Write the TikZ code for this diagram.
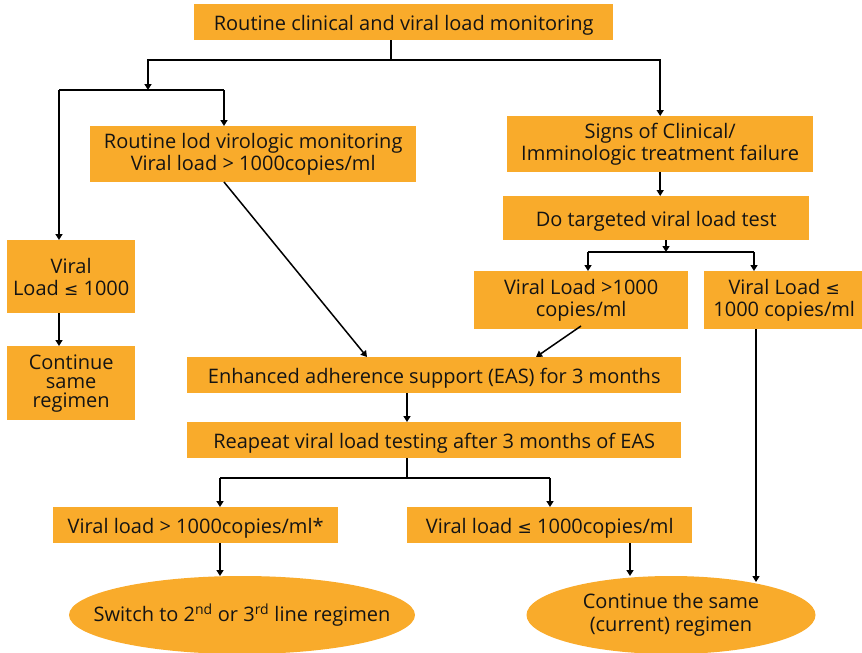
\documentclass[tikz,border=0pt]{standalone}
\usepackage{fontspec}
\setmainfont{Open Sans}
\newfontfamily\symf{DejaVu Sans}
\usetikzlibrary{arrows.meta,shapes.geometric}
\definecolor{boxor}{HTML}{F9AB2B}
\definecolor{txt}{HTML}{141414}
\newcommand{\myle}{{\symf\fontsize{17}{18}\selectfont ≤}}
\tikzset{
  box/.style={fill=boxor, draw=none, inner sep=0pt, anchor=north west, align=center, text=txt,
     font=\fontsize{20}{22}\selectfont},
  one/.style={text height=17pt, text depth=0pt},
  oval/.style={ellipse, fill=boxor, draw=none, inner sep=0pt, align=center, text=txt,
     font=\fontsize{20}{23}\selectfont},
  conn/.style={line width=1.5pt, draw=black},
  arr/.style={conn, -{Triangle[width=7pt,length=6pt]}}
}
\begin{document}
\begin{tikzpicture}[x=1pt,y=-1pt]
\useasboundingbox (0,0) rectangle (862,653);
% boxes
\node[box, one, minimum width=419pt, minimum height=36pt] (top) at (194,4) {Routine clinical and viral load monitoring};
\node[box, minimum width=326pt, minimum height=56pt] (rlvm) at (90,126) {Routine lod virologic monitoring\\Viral load > 1000copies/ml};
\node[box, minimum width=306pt, minimum height=56pt] (sign) at (507,116) {Signs of Clinical/\\Imminologic treatment failure};
\node[box, one, minimum width=306pt, minimum height=44pt] (dotg) at (503,196) {Do targeted viral load test};
\node[box, minimum width=214pt, minimum height=58pt] (vlg) at (474,271) {Viral Load >1000\\copies/ml};
\node[box, minimum width=160pt, minimum height=58pt] (vll) at (704,271) {Viral Load \myle\\1000 copies/ml};
\node[box, minimum width=128pt, minimum height=73pt] (vlone) at (7,240) {Viral\\Load \myle\ 1000};
\node[box, minimum width=128pt, minimum height=74pt] (cont) at (7,346) {Continue\\[-3pt]same\\[-3pt]regimen};
\node[box, one, minimum width=494pt, minimum height=36pt] (eas) at (187,357) {Enhanced adherence support (EAS) for 3 months};
\node[box, one, minimum width=494pt, minimum height=36pt] (rep) at (187,422) {Reapeat viral load testing after 3 months of EAS};
\node[box, one, minimum width=285pt, minimum height=36pt] (vgtwo) at (53,507) {Viral load > 1000copies/ml*};
\node[box, one, minimum width=285pt, minimum height=36pt] (vltwo) at (407,507) {Viral load \myle\ 1000copies/ml};
\node[oval, minimum width=346pt, minimum height=78pt] (sw) at (242,615) {\makebox[0pt]{Switch to 2\textsuperscript{nd} or 3\textsuperscript{rd} line regimen}};
\node[oval, minimum width=289pt, minimum height=78pt] (ce) at (671,615) {Continue the same\\(current) regimen};
% junction coordinates
\coordinate (ja) at (391,60);
\coordinate (jb) at (148,90);
\coordinate (jc) at (59,90);
\coordinate (jd) at (224,90);
\coordinate (je) at (666,252);
\coordinate (jf) at (588,252);
\coordinate (jg) at (754,252);
\coordinate (jh) at (407,478);
\coordinate (ji) at (220,478);
\coordinate (jj) at (550,478);
\coordinate (easin) at (367,357);
\coordinate (easinb) at (536,357);
% connectors
\draw[conn] (ja |- top.south) -- (ja);
\draw[arr] (ja) -| (sign.north);
\draw[arr] (ja) -| (jb);
\draw[conn] (jc) -- (jd);
\draw[arr] (jd) -- (jd |- rlvm.north);
\draw[arr] (jc) -- (jc |- vlone.north);
\draw[arr] (jc |- vlone.south) -- (jc |- cont.north);
\draw[arr] (224,182) -- (easin);
\draw[arr] (sign.south) -- (sign.south |- dotg.north);
\draw[arr] (je |- dotg.south) -- (je);
\draw[conn] (jf) -- (jg);
\draw[arr] (jf) -- (jf |- vlg.north);
\draw[arr] (jg) -- (jg |- vll.north);
\draw[arr] (581,326) -- (easinb);
\draw[arr] (756,329) -- (756,582);
\draw[arr] (jh |- eas.south) -- (jh |- rep.north);
\draw[conn] (jh |- rep.south) -- (jh);
\draw[conn] (ji) -- (jj);
\draw[arr] (ji) -- (ji |- vgtwo.north);
\draw[arr] (jj) -- (jj |- vltwo.north);
\draw[arr] (ji |- vgtwo.south) -- (220,576);
\draw[arr] (630,543) -- (630,576);
\end{tikzpicture}
\end{document}
